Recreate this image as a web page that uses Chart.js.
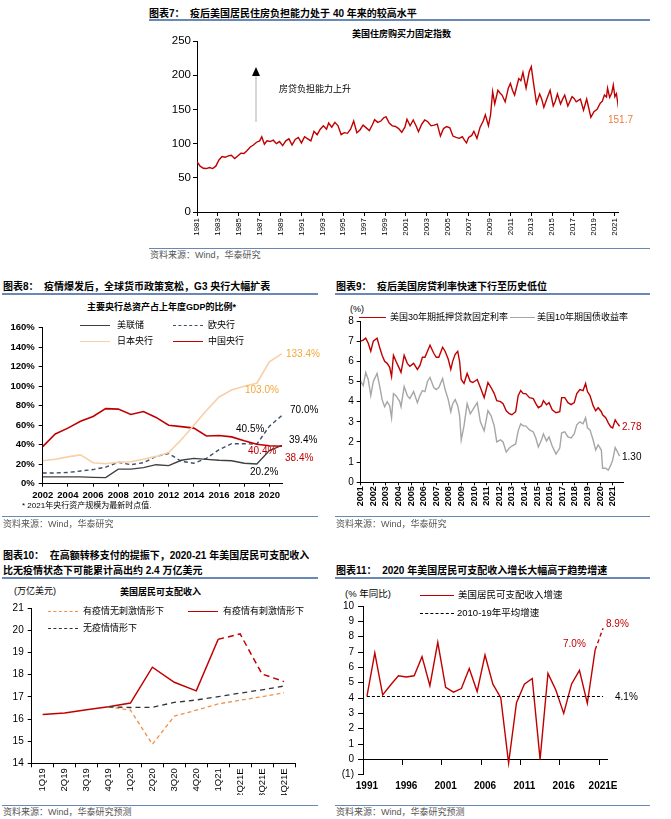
<!DOCTYPE html>
<html>
<head>
<meta charset="utf-8">
<script src="https://cdn.jsdelivr.net/npm/chart.js@4.4.1/dist/chart.umd.min.js"></script>
<style>
  body { margin: 0; width: 671px; height: 819px; position: relative; background: #fff; overflow: hidden;
         font-family: "Liberation Sans", "Noto Sans CJK SC", sans-serif; color: #000; }
  .t { position: absolute; line-height: 1; white-space: nowrap; }
  .ttl { font-size: 10px; font-weight: bold; }
  .sub { font-size: 9px; font-weight: bold; }
  .lg { font-size: 9px; }
  .src { font-size: 9px; color: #555; }
  .num { font-size: 10px; }
  .rule { position: absolute; height: 2px; background: #6a88b6; }
  .foot { position: absolute; height: 1.5px; background: #6a88b6; }
  .ln { position: absolute; height: 0; }
  canvas { position: absolute; }
</style>
</head>
<body>

<!-- 图表7 -->
<div class="t ttl" style="left:149px;top:9px">图表7：&nbsp;&nbsp;疫后美国居民住房负担能力处于 40 年来的较高水平</div>
<div class="rule" style="left:149px;top:19px;width:501px"></div>
<div class="t sub" style="left:352px;top:29.5px">美国住房购买力固定指数</div>
<canvas id="c7" width="480" height="215" style="left:149px;top:25px"></canvas>
<div style="position:absolute;left:255px;top:75px;width:2px;height:47px;background:#d6d6d6"></div>
<div style="position:absolute;left:252px;top:67px;width:0;height:0;border-left:4px solid transparent;border-right:4px solid transparent;border-bottom:9px solid #000"></div>
<div class="t lg" style="left:279px;top:84.5px">房贷负担能力上升</div>
<div class="t num" style="left:608px;top:115px;color:#ec7a3c">151.7</div>
<div class="foot" style="left:149px;top:247.5px;width:501px"></div>
<div class="t src" style="left:150px;top:250.5px">资料来源：Wind，华泰研究</div>

<!-- 图表8 -->
<div class="t ttl" style="left:3px;top:282px">图表8：&nbsp;&nbsp;疫情爆发后，全球货币政策宽松，G3 央行大幅扩表</div>
<div class="rule" style="left:2px;top:293px;width:316px"></div>
<div class="t sub" style="left:87px;top:302.5px">主要央行总资产占上年度GDP的比例*</div>
<canvas id="c8" width="330" height="190" style="left:0px;top:315px"></canvas>
<div class="ln" style="left:80px;top:325px;width:30px;border-top:1.5px solid #404040"></div>
<div class="t lg" style="left:117px;top:320.5px">美联储</div>
<div class="ln" style="left:173px;top:325px;width:30px;border-top:1.5px dashed #3b4e6b"></div>
<div class="t lg" style="left:208px;top:320.5px">欧央行</div>
<div class="ln" style="left:80px;top:341px;width:30px;border-top:1.5px solid #f9cfa8"></div>
<div class="t lg" style="left:117px;top:336.5px">日本央行</div>
<div class="ln" style="left:173px;top:341px;width:30px;border-top:1.5px solid #c00000"></div>
<div class="t lg" style="left:208px;top:336.5px">中国央行</div>
<div class="t num" style="left:286px;top:349px;color:#f2a93b">133.4%</div>
<div class="t num" style="left:245px;top:385px;color:#f2a93b">103.0%</div>
<div class="t num" style="left:290px;top:405px">70.0%</div>
<div class="t num" style="left:236px;top:424px">40.5%</div>
<div class="t num" style="left:289px;top:435px">39.4%</div>
<div class="t num" style="left:248px;top:446px;color:#c00000">40.4%</div>
<div class="t num" style="left:285px;top:453px;color:#c00000">38.4%</div>
<div class="t num" style="left:250px;top:467px">20.2%</div>
<div class="t" style="left:22px;top:502px;font-size:8px">* 2021年央行资产规模为最新时点值.</div>
<div class="foot" style="left:2px;top:515.5px;width:316px"></div>
<div class="t src" style="left:3px;top:519.5px">资料来源：Wind，华泰研究</div>

<!-- 图表9 -->
<div class="t ttl" style="left:336px;top:282px">图表9：&nbsp;&nbsp;疫后美国房贷利率快速下行至历史低位</div>
<div class="rule" style="left:335px;top:293px;width:315px"></div>
<div class="t lg" style="left:350px;top:304.5px">(%)</div>
<canvas id="c9" width="341" height="212" style="left:330px;top:300px"></canvas>
<div class="ln" style="left:359px;top:317px;width:27px;border-top:1.5px solid #c00000"></div>
<div class="t lg" style="left:390px;top:312.5px">美国30年期抵押贷款固定利率</div>
<div class="ln" style="left:510px;top:317px;width:25px;border-top:1.5px solid #a6a6a6"></div>
<div class="t lg" style="left:537px;top:312.5px">美国10年期国债收益率</div>
<div class="t num" style="left:622px;top:422px;color:#c00000">2.78</div>
<div class="t num" style="left:622px;top:452px">1.30</div>
<div class="foot" style="left:335px;top:515.5px;width:315px"></div>
<div class="t src" style="left:336px;top:519.5px">资料来源：Wind，华泰研究</div>

<!-- 图表10 -->
<div class="t ttl" style="left:3px;top:551px">图表10：&nbsp;&nbsp;在高额转移支付的提振下，2020-21 年美国居民可支配收入</div>
<div class="t ttl" style="left:3px;top:566px">比无疫情状态下可能累计高出约 2.4 万亿美元</div>
<div class="rule" style="left:2px;top:577px;width:316px"></div>
<div class="t lg" style="left:14px;top:586.5px">(万亿美元)</div>
<div class="t sub" style="left:120px;top:587.5px">美国居民可支配收入</div>
<canvas id="c10" width="330" height="207" style="left:0px;top:598px"></canvas>
<div class="ln" style="left:48px;top:611px;width:30px;border-top:1.5px dashed #f0904a"></div>
<div class="t lg" style="left:83px;top:606.5px">有疫情无刺激情形下</div>
<div class="ln" style="left:188px;top:611px;width:30px;border-top:1.5px solid #c00000"></div>
<div class="t lg" style="left:223px;top:606.5px">有疫情有刺激情形下</div>
<div class="ln" style="left:48px;top:628px;width:30px;border-top:1.5px dashed #333"></div>
<div class="t lg" style="left:83px;top:623.5px">无疫情情形下</div>
<div class="foot" style="left:2px;top:804.5px;width:316px"></div>
<div class="t src" style="left:3px;top:807.5px">资料来源：Wind，华泰研究预测</div>

<!-- 图表11 -->
<div class="t ttl" style="left:336px;top:566px">图表11：&nbsp;&nbsp;2020 年美国居民可支配收入增长大幅高于趋势增速</div>
<div class="rule" style="left:335px;top:577px;width:315px"></div>
<div class="t lg" style="left:345px;top:588.5px;font-size:9.5px">(% 年同比)</div>
<canvas id="c11" width="341" height="200" style="left:330px;top:596px"></canvas>
<div class="ln" style="left:420px;top:595px;width:34px;border-top:1.5px solid #c00000"></div>
<div class="t lg" style="left:458px;top:590px;font-size:9.5px">美国居民可支配收入增速</div>
<div class="ln" style="left:420px;top:613px;width:34px;border-top:1.5px dashed #000"></div>
<div class="t lg" style="left:457px;top:608px;font-size:9.5px">2010-19年平均增速</div>
<div class="t num" style="left:606px;top:619px;color:#c00000">8.9%</div>
<div class="t num" style="left:563px;top:639px;color:#c00000">7.0%</div>
<div class="t num" style="left:615px;top:692px">4.1%</div>
<div class="foot" style="left:335px;top:804.5px;width:315px"></div>
<div class="t src" style="left:336px;top:807.5px">资料来源：Wind，华泰研究预测</div>

<script>
// 图表7 住房购买力指数
const houseT = [
  1981.0, 1981.3, 1981.6, 1981.9, 1982.2, 1982.5, 1982.8, 1983.1, 1983.4, 1983.7,
  1984.0, 1984.3, 1984.6, 1984.9, 1985.2, 1985.5, 1985.8, 1986.1, 1986.4, 1986.7,
  1987.0, 1987.2, 1987.45, 1987.7, 1988.0, 1988.3, 1988.6, 1988.9, 1989.2, 1989.5,
  1989.8, 1990.1, 1990.4, 1990.7, 1991.0, 1991.3, 1991.6, 1991.9, 1992.2, 1992.5,
  1992.8, 1993.1, 1993.4, 1993.6, 1993.9, 1994.2, 1994.5, 1994.8, 1995.1, 1995.4,
  1995.7, 1996.0, 1996.3, 1996.6, 1996.9, 1997.2, 1997.5, 1997.8, 1998.0, 1998.3,
  1998.6, 1998.9, 1999.1, 1999.4, 1999.7, 2000.0, 2000.3, 2000.6, 2000.9, 2001.1,
  2001.4, 2001.7, 2002.0, 2002.2, 2002.5, 2002.8, 2003.1, 2003.4, 2003.7, 2004.0,
  2004.3, 2004.6, 2004.9, 2005.2, 2005.5, 2005.8, 2006.1, 2006.4, 2006.6, 2006.8,
  2007.0, 2007.3, 2007.5, 2007.8, 2008.1, 2008.4, 2008.6, 2008.9, 2009.1, 2009.3,
  2009.5, 2009.8, 2010.0, 2010.2, 2010.5, 2010.8, 2011.0, 2011.2, 2011.4, 2011.8,
  2012.0, 2012.2, 2012.5, 2012.8, 2013.0, 2013.2, 2013.5, 2013.8, 2014.0, 2014.2,
  2014.5, 2014.8, 2015.1, 2015.3, 2015.5, 2015.8, 2016.0, 2016.2, 2016.5, 2016.9,
  2017.1, 2017.3, 2017.7, 2018.0, 2018.3, 2018.5, 2018.7, 2019.0, 2019.3, 2019.6,
  2019.8, 2020.0, 2020.2, 2020.3, 2020.5, 2020.7, 2020.85, 2021.0, 2021.15, 2021.35,
];
const houseV = [
  73.6, 67, 64, 63.5, 65, 63.5, 67, 76, 81, 80,
  82, 83, 78, 82, 86, 85.5, 90, 95, 98, 102,
  104, 110, 99, 104, 103, 105, 100, 103, 97, 104,
  107, 98, 106, 109, 101, 110, 107, 104, 118, 113,
  121, 126, 121, 130, 124, 131, 126, 113, 116, 115,
  121, 133, 116, 120, 127, 123, 119, 128, 135, 131,
  133, 138, 139, 130, 126, 125, 122, 116.5, 124, 135.5,
  126, 134.5, 125, 117.4, 128, 134.5, 132, 126, 127, 128.6,
  111, 122, 125, 123, 111, 109, 107.7, 110, 105, 101,
  109, 112, 118, 107.7, 124, 133, 142, 126, 142, 176,
  158, 178, 174, 171, 161, 181, 188, 178, 171, 195,
  192, 204, 181, 205, 212.5, 190, 159, 172.5, 165, 153,
  166, 178, 155, 162, 172.5, 158, 165, 171, 155, 168.6,
  166, 161, 165, 149, 165, 152, 138.4, 146.7, 150, 159,
  162, 171, 168, 181, 167.6, 174, 185.7, 168.6, 173, 151.7,
];
const houseTicks = [1981, 1983, 1985, 1987, 1989, 1991, 1993, 1995, 1997, 1999, 2001,
  2003, 2005, 2007, 2009, 2011, 2013, 2015, 2017, 2019, 2021];

// 图表8 央行资产/GDP (%)
const cbYears = [2002, 2003, 2004, 2005, 2006, 2007, 2008, 2009, 2010, 2011,
  2012, 2013, 2014, 2015, 2016, 2017, 2018, 2019, 2020, 2021];
const fedV = [7, 7, 7, 7, 6.5, 6.2, 15, 15, 16.5, 19.5, 18.5, 24, 26, 25, 24, 23.5, 21, 20.2, 34, 39.4];
const ecbV = [11, 11, 11.5, 13, 14.5, 17, 22, 19.5, 21.5, 28, 31, 23, 21, 26, 35, 41, 41, 40.5, 59, 70];
const bojV = [23.5, 25, 27.5, 29.5, 21.5, 20.5, 22, 22.5, 25, 28, 32, 45, 60, 75, 89, 96, 100, 103, 125, 133.4];
const pbocV = [38, 51, 57, 64, 69, 77, 76.5, 71, 74, 68, 60, 58.5, 57, 49, 49.5, 48, 44, 40.4, 39, 38.4];
const cbTicks = [2002, 2004, 2006, 2008, 2010, 2012, 2014, 2016, 2018, 2020];

// 图表9 利率 (%)
const rateT = [
  2001.0, 2001.2, 2001.4, 2001.6, 2001.8, 2002.0, 2002.3, 2002.5, 2002.7, 2002.9,
  2003.1, 2003.3, 2003.45, 2003.6, 2003.8, 2004.1, 2004.2, 2004.45, 2004.7, 2004.9,
  2005.2, 2005.5, 2005.7, 2005.9, 2006.1, 2006.3, 2006.5, 2006.8, 2007.0, 2007.2,
  2007.5, 2007.7, 2007.95, 2008.15, 2008.3, 2008.5, 2008.7, 2008.85, 2008.98, 2009.2,
  2009.45, 2009.7, 2009.9, 2010.25, 2010.5, 2010.8, 2011.1, 2011.35, 2011.6, 2011.8,
  2012.1, 2012.3, 2012.55, 2012.8, 2013.0, 2013.3, 2013.5, 2013.7, 2013.9, 2014.1,
  2014.4, 2014.7, 2014.9, 2015.1, 2015.35, 2015.5, 2015.75, 2015.95, 2016.2, 2016.5,
  2016.8, 2016.95, 2017.2, 2017.45, 2017.7, 2017.95, 2018.15, 2018.4, 2018.65, 2018.85,
  2019.0, 2019.2, 2019.45, 2019.65, 2019.85, 2020.1, 2020.2, 2020.45, 2020.65, 2020.85,
  2021.0, 2021.2, 2021.35, 2021.55,
];
const mortV = [
  7.0, 7.05, 7.15, 6.9, 6.5, 7.0, 7.15, 6.7, 6.3, 6.0,
  5.9, 5.7, 5.25, 6.3, 6.0, 5.6, 5.45, 6.3, 5.9, 5.75,
  5.9, 5.6, 5.8, 6.2, 6.2, 6.5, 6.8, 6.4, 6.2, 6.2,
  6.7, 6.5, 6.1, 5.6, 6.0, 6.35, 6.5, 6.0, 5.1, 4.9,
  5.4, 5.0, 4.95, 5.1, 4.7, 4.2, 4.95, 4.7, 4.4, 4.05,
  4.0, 3.9, 3.55, 3.4, 3.35, 3.5, 4.3, 4.55, 4.4, 4.4,
  4.2, 4.15, 3.9, 3.7, 3.8, 4.05, 3.85, 3.95, 3.6, 3.45,
  3.5, 4.2, 4.2, 3.95, 3.85, 3.95, 4.4, 4.6, 4.55, 4.9,
  4.5, 4.3, 3.8, 3.55, 3.7, 3.5, 3.35, 3.2, 2.95, 2.75,
  2.7, 3.1, 2.95, 2.78,
];
const tsyV = [
  5.0, 4.8, 5.45, 5.1, 4.3, 5.0, 5.4, 4.8, 4.1, 3.75,
  4.0, 3.8, 3.2, 4.4, 4.3, 4.0, 3.75, 4.75, 4.3, 4.15,
  4.5, 3.95, 4.3, 4.55, 4.5, 5.0, 5.2, 4.7, 4.6, 4.7,
  5.15, 4.6, 4.1, 3.5, 3.9, 4.1, 3.8, 3.3, 2.1, 2.8,
  3.9, 3.4, 3.6, 3.95, 3.0, 2.55, 3.55, 3.3, 2.8, 2.0,
  2.1, 2.0, 1.5, 1.7, 1.8, 1.9, 2.55, 2.9, 2.8, 2.8,
  2.6, 2.5, 2.2, 1.75, 2.1, 2.4, 2.05, 2.25, 1.8, 1.4,
  1.7, 2.45, 2.5, 2.25, 2.2, 2.4, 2.85, 3.0, 2.9, 3.2,
  2.7, 2.6, 2.1, 1.6, 1.85, 1.6, 0.7, 0.7, 0.6, 0.85,
  1.1, 1.72, 1.55, 1.30,
];
const rateTicks = [2001, 2002, 2003, 2004, 2005, 2006, 2007, 2008, 2009, 2010, 2011,
  2012, 2013, 2014, 2015, 2016, 2017, 2018, 2019, 2020, 2021];

// 图表10 可支配收入 (万亿美元)
const quarters = ["1Q19", "2Q19", "3Q19", "4Q19", "1Q20", "2Q20", "3Q20", "4Q20", "1Q21", "2Q21E", "3Q21E", "4Q21E"];
const noStimV = [null, null, null, 16.55, 16.4, 14.86, 16.13, 16.4, 16.68, 16.85, 17.01, 17.19];
const stimV = [16.2, 16.27, 16.42, 16.55, 16.72, 18.34, 17.66, 17.27, 19.6, 19.84, 18.03, 17.69];
const noCovidV = [null, null, null, 16.55, 16.52, 16.53, 16.75, 16.86, 17.01, 17.17, 17.32, 17.49];

// 图表11 可支配收入增速 (%)
const growthYears = ["1991", "1992", "1993", "1994", "1995", "1996", "1997", "1998", "1999", "2000",
  "2001", "2002", "2003", "2004", "2005", "2006", "2007", "2008", "2009", "2010",
  "2011", "2012", "2013", "2014", "2015", "2016", "2017", "2018", "2019", "2020", "2021E"];
const growthV = [4.1, 6.95, 4.2, 4.85, 5.45, 5.37, 5.45, 6.7, 4.8, 7.63,
  4.7, 4.38, 4.62, 5.92, 4.42, 6.8, 4.9, 4.02, -0.25, 3.7,
  4.9, 5.27, 0, 5.6, 4.52, 3.0, 4.92, 5.8, 3.66, 7.15, 8.55];
const avgGrowth = 4.1;

const FONT = '"Liberation Sans", "Noto Sans CJK SC", sans-serif';
Chart.defaults.font.family = FONT;
Chart.defaults.color = "#000";
Chart.defaults.animation = false;
Chart.defaults.responsive = false;
Chart.defaults.plugins.legend.display = false;
Chart.defaults.plugins.tooltip.enabled = false;
Chart.defaults.elements.point.radius = 0;
Chart.defaults.elements.line.tension = 0;

function ctxOf(id) {
  return document.getElementById(id).getContext("2d");
}

function pts(xs, ys) {
  return xs.map((x, i) => ({ x, y: ys[i] }));
}

function yAxis(min, max, step, width, font, fmt, tickLen, pad) {
  return {
    min, max,
    ticks: { stepSize: step, font, padding: pad, callback: fmt },
    grid: { drawOnChartArea: false, color: "#000", tickLength: tickLen },
    border: { color: "#000", width: 1 },
    afterFit: (s) => { s.width = width; },
  };
}

function xYears(min, max, tickYears, height, font, rot, tickLen, pad) {
  return {
    type: "linear", min, max,
    afterBuildTicks: (s) => { s.ticks = tickYears.map((v) => ({ value: v })); },
    ticks: { font, minRotation: rot, maxRotation: rot, padding: pad, autoSkip: false, callback: (v) => String(v) },
    grid: { drawOnChartArea: false, color: "#000", tickLength: tickLen },
    border: { color: "#000", width: 1 },
    afterFit: (s) => { s.height = height; },
  };
}

new Chart(ctxOf("c7"), {
  type: "line",
  data: { datasets: [{ data: pts(houseT, houseV), borderColor: "#c00000", borderWidth: 1.4 }] },
  options: {
    layout: { padding: { top: 16, right: 11 } },
    scales: {
      x: xYears(1981, 2021.3, houseTicks, 28, { size: 8 }, 90, 4, 2),
      y: yAxis(0, 250, 50, 48, { size: 11.5 }, (v) => v, 4, 2),
    },
  },
});

new Chart(ctxOf("c8"), {
  type: "line",
  data: {
    datasets: [
      { data: pts(cbYears, bojV), borderColor: "#f9cfa8", borderWidth: 1.6 },
      { data: pts(cbYears, pbocV), borderColor: "#c00000", borderWidth: 1.6 },
      { data: pts(cbYears, fedV), borderColor: "#404040", borderWidth: 1.4 },
      { data: pts(cbYears, ecbV), borderColor: "#3b4e6b", borderWidth: 1.4, borderDash: [4, 3] },
    ],
  },
  options: {
    layout: { padding: { top: 12.7, right: 48 } },
    scales: {
      x: xYears(2002, 2021, cbTicks, 21.3, { size: 9.5, weight: "bold" }, 0, 3, 3),
      y: yAxis(0, 160, 20, 42.7, { size: 9.5, weight: "bold" }, (v) => v + "%", 4, 4),
    },
  },
});

new Chart(ctxOf("c9"), {
  type: "line",
  data: {
    datasets: [
      { data: pts(rateT, tsyV), borderColor: "#a6a6a6", borderWidth: 1.4 },
      { data: pts(rateT, mortV), borderColor: "#c00000", borderWidth: 1.4 },
    ],
  },
  options: {
    layout: { padding: { top: 21, right: 48 } },
    scales: {
      x: xYears(2001, 2021.82, rateTicks, 29.7, { size: 9, weight: "bold" }, 90, 3, 1),
      y: yAxis(0, 8, 1, 30.7, { size: 10 }, (v) => v, 4, 3),
    },
  },
});

new Chart(ctxOf("c10"), {
  type: "line",
  data: {
    labels: quarters,
    datasets: [
      { data: noCovidV, borderColor: "#333", borderWidth: 1.3, borderDash: [5, 4] },
      { data: noStimV, borderColor: "#f0904a", borderWidth: 1.3, borderDash: [4, 3] },
      {
        data: stimV, borderColor: "#c00000", borderWidth: 1.5,
        segment: { borderDash: (c) => (c.p0DataIndex >= 8 ? [6, 4] : undefined) },
      },
    ],
  },
  options: {
    layout: { padding: { top: 10.3, right: 35, bottom: 10 } },
    scales: {
      x: {
        offset: true,
        ticks: { font: { size: 9.5 }, minRotation: 90, maxRotation: 90, padding: 1, autoSkip: false },
        grid: { offset: true, drawOnChartArea: false, color: "#000", tickLength: 4 },
        border: { color: "#000", width: 1 },
        afterFit: (s) => { s.height = 31.7; },
      },
      y: yAxis(14, 21, 1, 31.7, { size: 10 }, (v) => v, 4, 4),
    },
  },
});

new Chart(ctxOf("c11"), {
  type: "line",
  data: {
    labels: growthYears,
    datasets: [
      {
        data: growthYears.map((_, i) => (i === 0 || i === growthYears.length - 1 ? avgGrowth : null)),
        spanGaps: true, borderColor: "#000", borderWidth: 1.2, borderDash: [3, 2],
      },
      {
        data: growthV, borderColor: "#c00000", borderWidth: 1.4,
        segment: { borderDash: (c) => (c.p0DataIndex >= growthYears.length - 2 ? [4, 3] : undefined) },
      },
    ],
  },
  options: {
    layout: { padding: { top: 10, right: 64, bottom: 21.3 } },
    scales: {
      x: {
        position: { y: 0 },
        offset: true,
        ticks: {
          font: { size: 10, weight: "bold" }, maxRotation: 0, minRotation: 0, autoSkip: false, padding: 16,
          callback: (v, i) => (i % 5 === 0 ? growthYears[i] : ""),
        },
        grid: {
          offset: true, drawOnChartArea: false, tickLength: 5,
          color: (c) => (c.index % 5 === 0 ? "#000" : "rgba(0,0,0,0)"),
        },
        border: { color: "#000", width: 1 },
      },
      y: yAxis(-1, 10, 1, 33, { size: 10 }, (v) => (v < 0 ? "(" + -v + ")" : v), 5, 4),
    },
  },
});
</script>
</body>
</html>
